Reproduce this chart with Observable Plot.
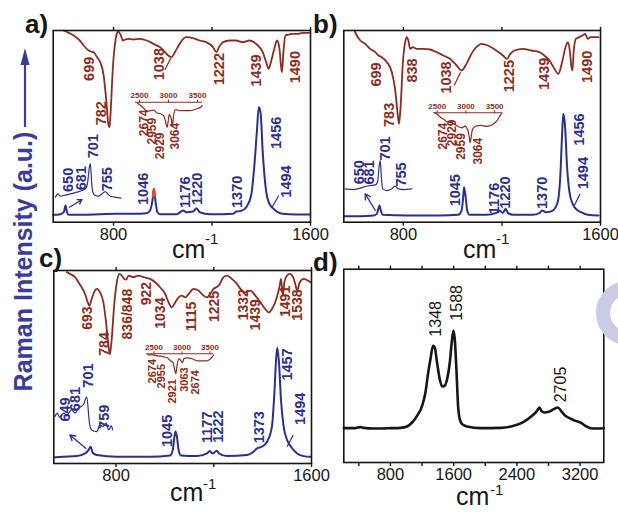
<!DOCTYPE html>
<html><head><meta charset="utf-8">
<script src="https://cdn.jsdelivr.net/npm/d3@7"></script>
<script src="https://cdn.jsdelivr.net/npm/@observablehq/plot@0.6"></script>
<style>
html,body{margin:0;padding:0;background:#fff;}
#fig{position:relative;width:618px;height:512px;overflow:hidden;background:#fff;font-family:"Liberation Sans",Arial,Helvetica,sans-serif;}
</style></head><body><div id="fig"></div>
<script>
// ---------- data (wavenumber cm^-1, intensity a.u.) ----------
const irA = [[598,575],[618,568],[638,560],[659,548],[679,530],[699,515],[708,512],[719,510],[733,495],[746,480],[760,440],[770,370],[780,290],[784,285],[789,340],[797,460],[807,540],[813,565],[820,572],[830,560],[838,545],[847,548],[861,550],[881,548],[908,550],[935,545],[962,535],[989,525],[1009,510],[1022,500],[1036,495],[1049,510],[1069,535],[1083,550],[1096,555],[1123,552],[1150,545],[1177,540],[1204,525],[1218,510],[1228,525],[1245,540],[1271,545],[1298,545],[1325,540],[1352,545],[1379,535],[1406,510],[1420,480],[1430,460],[1439,480],[1453,520],[1464,545],[1474,520],[1480,470],[1484,450],[1490,510],[1498,560],[1507,562],[1527,565],[1548,565],[1568,568],[1595,568]];
const ramanA = [[555,22],[584,24],[598,30],[605,50],[611,30],[618,22],[679,22],[746,24],[813,25],[881,25],[935,27],[948,35],[958,65],[964,100],[971,60],[978,30],[989,24],[1056,24],[1083,35],[1096,30],[1123,32],[1137,42],[1150,30],[1191,24],[1245,24],[1285,25],[1298,32],[1319,34],[1339,45],[1359,80],[1372,170],[1382,270],[1390,345],[1397,330],[1406,210],[1417,110],[1430,60],[1447,42],[1467,30],[1487,25],[1541,23],[1595,23]];
const ramanTopA = [[960,78],[964,100],[968,78]];
const zoomRamanA = [[564,75],[574,85],[584,78],[598,80],[625,85],[652,90],[672,95],[686,100],[695,120],[703,170],[706,175],[711,120],[716,90],[726,80],[739,78],[753,85],[766,92],[776,85],[787,78],[807,75],[830,72]];
const insetIrA = [[2460,99],[2546,91],[2633,82],[2690,83],[2747,84],[2805,78],[2862,77],[2919,72],[2948,62],[2975,50],[2995,62],[3012,75],[3034,72],[3052,64],[3066,51],[3086,72],[3121,85],[3207,83],[3293,83],[3379,83],[3465,86],[3552,90],[3581,93]];

const irB = [[601,575],[611,560],[625,545],[645,535],[665,520],[686,510],[699,500],[712,495],[733,480],[753,450],[766,400],[776,330],[782,295],[789,350],[797,470],[807,540],[813,555],[820,545],[827,520],[838,525],[854,520],[881,520],[908,518],[935,510],[962,500],[989,490],[1016,470],[1036,455],[1056,475],[1076,505],[1096,525],[1117,535],[1143,530],[1177,515],[1204,500],[1220,490],[1234,505],[1251,515],[1285,520],[1319,515],[1352,510],[1372,500],[1393,485],[1413,460],[1429,445],[1444,480],[1460,530],[1468,540],[1476,510],[1482,465],[1486,455],[1491,510],[1500,550],[1514,555],[1527,560],[1538,565],[1548,550],[1561,555],[1575,555],[1592,555]];
const ramanB = [[558,18],[625,18],[679,20],[692,25],[699,42],[703,50],[708,35],[716,22],[813,20],[948,20],[1022,22],[1036,35],[1042,70],[1046,105],[1052,80],[1059,35],[1069,22],[1137,22],[1177,28],[1191,34],[1204,28],[1215,40],[1224,28],[1245,22],[1325,22],[1352,27],[1363,35],[1379,30],[1406,35],[1426,60],[1437,140],[1444,260],[1449,325],[1456,290],[1464,170],[1474,90],[1487,55],[1500,40],[1521,30],[1548,22],[1592,20]];
const zoomRamanB = [[564,100],[598,98],[625,102],[645,107],[665,110],[686,112],[695,120],[702,170],[706,185],[711,130],[716,100],[733,95],[753,100],[766,108],[780,100],[800,98],[834,100]];
const insetIrB = [[2450,100],[2500,97],[2557,91],[2615,87],[2674,82],[2761,80],[2819,76],[2894,71],[2935,70],[2963,72],[2993,74],[3010,70],[3033,66],[3057,52],[3075,40],[3092,52],[3115,67],[3167,73],[3254,75],[3371,73],[3458,76],[3545,85],[3603,96],[3630,100]];

const irC = [[598,570],[611,565],[632,555],[646,540],[659,525],[673,505],[682,485],[691,470],[700,490],[710,510],[721,520],[734,510],[748,480],[759,420],[769,350],[775,325],[782,370],[792,470],[803,540],[814,565],[823,560],[833,550],[841,548],[851,560],[871,555],[892,560],[912,555],[939,550],[960,540],[980,525],[1001,505],[1015,480],[1028,465],[1042,480],[1056,495],[1069,500],[1083,495],[1097,505],[1117,520],[1138,515],[1151,505],[1172,495],[1185,505],[1199,520],[1220,530],[1240,555],[1254,560],[1274,550],[1295,535],[1309,520],[1329,510],[1350,515],[1370,500],[1391,480],[1411,460],[1425,450],[1438,460],[1456,490],[1470,530],[1475,550],[1483,500],[1489,540],[1500,560],[1511,565],[1525,555],[1535,530],[1541,515],[1552,540],[1568,550],[1585,545],[1596,540]];
const ramanC = [[545,18],[584,20],[639,22],[673,30],[687,40],[696,50],[704,32],[721,25],[803,20],[939,20],[1021,24],[1032,40],[1038,75],[1043,95],[1049,80],[1056,40],[1065,24],[1131,22],[1172,30],[1183,37],[1196,30],[1213,38],[1221,30],[1254,22],[1336,25],[1363,35],[1377,45],[1397,50],[1418,65],[1438,110],[1448,210],[1455,310],[1460,345],[1467,300],[1475,190],[1486,110],[1500,70],[1516,50],[1541,30],[1568,22],[1596,20]];
const zoomRamanC = [[550,140],[559,150],[568,138],[577,145],[587,150],[598,142],[609,154],[618,160],[632,150],[646,165],[666,175],[680,198],[691,120],[700,100],[721,95],[734,115],[745,110],[759,120],[770,100],[780,112],[786,100]];
const insetIrC = [[2389,98],[2468,98],[2557,96],[2675,94],[2736,92],[2795,86],[2843,82],[2866,70],[2889,60],[2914,78],[2943,90],[2986,86],[3009,82],[3032,90],[3093,92],[3182,90],[3272,86],[3361,86],[3450,86],[3509,90],[3568,98]];

const ramanD = [[210,103],[336,103],[420,106],[463,104],[589,102],[800,103],[927,104],[1011,108],[1074,120],[1137,140],[1201,170],[1243,210],[1272,260],[1306,310],[1340,350],[1361,345],[1390,300],[1424,250],[1454,228],[1483,230],[1517,250],[1551,300],[1576,360],[1597,395],[1614,370],[1635,280],[1656,170],[1677,130],[1707,115],[1770,108],[1939,103],[2192,104],[2360,110],[2487,122],[2592,140],[2655,155],[2685,165],[2710,155],[2748,150],[2803,152],[2866,160],[2917,165],[2959,155],[3014,140],[3077,132],[3140,125],[3204,120],[3267,110],[3330,103],[3414,102],[3499,103]];

// peak labels: [text, x, y]
const labelsIrA = [["699",703,460],["782",749,327],["1038",986,474],["1222",1228,459],["1439",1381,455],["1490",1538,465]];
const labelsRamanA = [["650",615,127],["681",668,132],["701",719,228],["755",773,129],["1046",920,100],["1176",1092,90],["1220",1142,100],["1370",1304,91],["1456",1463,268],["1494",1500,122]];
const labelsInsetA = [["2674",924,298],["2959",956,273],["2929",988,229],["3064",1050,258]];
const labelsIrB = [["699",690,443],["838",835,455],["783",741,322],["1038",976,434],["1225",1230,438],["1439",1374,445],["1490",1548,466]];
const labelsRamanB = [["650",620,150],["681",661,149],["701",725,221],["755",792,143],["1045",1010,96],["1176",1168,71],["1220",1215,89],["1370",1364,88],["1456",1514,278],["1494",1530,147]];
const labelsInsetB = [["2674",960,258],["2929",998,268],["2959",1034,227],["3064",1105,213]];
const labelsIrC = [["693",683,433],["784",753,356],["836/848",846,445],["922",926,506],["1034",983,448],["1115",1110,438],["1225",1202,468],["1332",1321,473],["1439",1370,443],["1491",1494,483],["1538",1544,472]];
const labelsRamanC = [["649",593,161],["681",634,192],["701",686,262],["759",750,139],["1045",1010,97],["1177",1174,108],["1222",1218,110],["1373",1386,108],["1457",1500,295],["1494",1553,163]];
const labelsInsetC = [["2674",950,275],["2955",987,260],["2921",1032,215],["3063",1081,250],["2674",1124,242]];
const labelsD = [["1348",1369,431],["1588",1643,479],["2705",2951,234]];

// pointers: [x1, y1, x2, y2]
const arrowA = [[621,45,672,68]];
const arrowB = [[686,35,645,85]];
const arrowC = [[677,45,611,85]];
const leaderIrA = [[1009,457,1032,492]];
const leaderRamanA = [[1444,45,1471,80]];
const leaderIrB = [[1006,410,1032,450]];
const leaderRamanB = [[1494,50,1517,85]];
const leaderRamanC = [[1500,50,1525,85]];

const ticksMain = [800, 1200, 1600];
const ticksD = [400, 800, 1200, 1600, 2000, 2400, 2800, 3200];
const ticksInset = [2500, 3000, 3500];

// ---------- drawing ----------
const BROWN = "#8b2c22", BLUE = "#2b3090", RED = "#e8462a", INK = "#161616";
const FONT = "'Liberation Sans', Arial, Helvetica, sans-serif";
const fig = document.getElementById("fig");
function place(el, left, top) {
  el.style.position = "absolute"; el.style.left = left + "px"; el.style.top = top + "px";
  fig.appendChild(el);
}
const baseStyle = {background: "transparent", overflow: "visible", fontFamily: FONT};

function mainPanel(o) {
  const marks = [];
  for (const s of o.lines) marks.push(Plot.line(s.data, {x: d => d[0], y: d => d[1], stroke: s.color, strokeWidth: s.width, curve: "monotone-x"}));
  for (const l of (o.links || [])) marks.push(Plot.link(l.data, {x1: d => d[0], y1: d => d[1], x2: d => d[2], y2: d => d[3], stroke: l.color, strokeWidth: 1.2}));
  for (const a of (o.arrows || [])) marks.push(Plot.arrow(a.data, {x1: d => d[0], y1: d => d[1], x2: d => d[2], y2: d => d[3], stroke: a.color, strokeWidth: 1.3, headLength: 7, bend: 0}));
  for (const t of o.texts) marks.push(Plot.text(t.data, {x: d => d[1], y: d => d[2], text: d => d[0], rotate: -90, fill: t.color, fontSize: t.size, fontWeight: t.weight || "bold"}));
  marks.push(Plot.frame({stroke: INK, strokeWidth: 1.6}));
  marks.push(Plot.axisX({anchor: "bottom", ticks: o.ticks, tickFormat: o.fmt, tickSize: 4, tickPadding: 2, fontSize: 16.5, label: null, stroke: INK, fill: INK, strokeWidth: 1.4}));
  marks.push(Plot.axisX({anchor: "top", ticks: o.ticks, tickFormat: () => "", tickSize: 4, label: null, stroke: INK, strokeWidth: 1.4}));
  const svg = Plot.plot({
    width: o.W, height: o.H,
    marginLeft: o.ml, marginRight: o.mr, marginTop: o.mt, marginBottom: o.mb,
    x: {domain: o.xd}, y: {domain: o.yd, axis: null},
    style: baseStyle, marks
  });
  place(svg, o.left, o.top);
}

function insetPanel(o) {
  const svg = Plot.plot({
    width: o.W, height: o.H,
    marginLeft: o.ml, marginRight: o.mr, marginTop: o.mt, marginBottom: o.mb,
    x: {domain: o.xd}, y: {domain: o.yd, axis: null},
    style: {...baseStyle, color: BROWN},
    marks: [
      Plot.ruleY([o.yd[1]], {stroke: BROWN, strokeWidth: 1.1}),
      Plot.line(o.data, {x: d => d[0], y: d => d[1], stroke: BROWN, strokeWidth: 1.2, curve: "monotone-x"}),
      Plot.axisX({anchor: "top", ticks: ticksInset, tickSize: 3, tickPadding: 1, fontSize: 8, fontWeight: "bold", label: null, stroke: BROWN, fill: BROWN, tickFormat: d => String(d)})
    ]
  });
  place(svg, o.left, o.top);
}

const fmtMain = d => (d === 1200 ? "" : String(d));
const fmtD = d => (d % 800 === 0 ? String(d) : "");

mainPanel({
  left: 0, top: 0, W: 340, H: 250, ml: 52.7, mr: 30, mt: 30, mb: 28.3,
  xd: [555, 1600], yd: [0, 575], ticks: ticksMain, fmt: fmtMain,
  lines: [
    {data: irA, color: BROWN, width: 1.8},
    {data: ramanA, color: BLUE, width: 2},
    {data: ramanTopA, color: RED, width: 2.2},
    {data: zoomRamanA, color: BLUE, width: 1.2}
  ],
  links: [{data: leaderIrA, color: BROWN}, {data: leaderRamanA, color: BLUE}],
  arrows: [{data: arrowA, color: BLUE}],
  texts: [
    {data: labelsIrA, color: BROWN, size: 14.5},
    {data: labelsRamanA, color: BLUE, size: 14.5},
    {data: labelsInsetA, color: BROWN, size: 12}
  ]
});
insetPanel({left: 125, top: 85, W: 90, H: 50, ml: 10, mr: 13, mt: 16.7, mb: 3.3, xd: [2431, 3586], yd: [40, 100], data: insetIrA});

mainPanel({
  left: 300, top: 0, W: 318, H: 250, ml: 43.3, mr: 18, mt: 30, mb: 28.3,
  xd: [558, 1600], yd: [0, 575], ticks: ticksMain, fmt: fmtMain,
  lines: [
    {data: irB, color: BROWN, width: 1.8},
    {data: ramanB, color: BLUE, width: 2},
    {data: zoomRamanB, color: BLUE, width: 1.2}
  ],
  links: [{data: leaderIrB, color: BROWN}, {data: leaderRamanB, color: BLUE}],
  arrows: [{data: arrowB, color: BLUE}],
  texts: [
    {data: labelsIrB, color: BROWN, size: 14.5},
    {data: labelsRamanB, color: BLUE, size: 14.5},
    {data: labelsInsetB, color: BROWN, size: 12}
  ]
});
insetPanel({left: 423, top: 95, W: 90, H: 52, ml: 10.3, mr: 11.3, mt: 17.3, mb: 2.2, xd: [2441, 3632], yd: [35, 100], data: insetIrB});

mainPanel({
  left: 0, top: 250, W: 340, H: 262, ml: 53.3, mr: 29, mt: 20, mb: 49,
  xd: [545, 1600], yd: [0, 575], ticks: ticksMain, fmt: fmtMain,
  lines: [
    {data: irC, color: BROWN, width: 1.8},
    {data: ramanC, color: BLUE, width: 2},
    {data: zoomRamanC, color: BLUE, width: 1.2}
  ],
  links: [{data: leaderRamanC, color: BLUE}],
  arrows: [{data: arrowC, color: BLUE}],
  texts: [
    {data: labelsIrC, color: BROWN, size: 14},
    {data: labelsRamanC, color: BLUE, size: 14.5},
    {data: labelsInsetC, color: BROWN, size: 11}
  ]
});
insetPanel({left: 136, top: 336, W: 90, H: 46, ml: 10, mr: 13, mt: 17.3, mb: 3.7, xd: [2366, 3563], yd: [50, 100], data: insetIrC});

mainPanel({
  left: 300, top: 250, W: 318, H: 262, ml: 43.3, mr: 14.7, mt: 18.7, mb: 50,
  xd: [210, 3500], yd: [0, 580], ticks: ticksD, fmt: fmtD,
  lines: [{data: ramanD, color: INK, width: 2.6}],
  texts: [{data: labelsD, color: INK, size: 16, weight: "normal"}]
});

// ---------- figure annotations ----------
const NS = "http://www.w3.org/2000/svg";
const over = document.createElementNS(NS, "svg");
over.setAttribute("width", 618); over.setAttribute("height", 512);
over.style.pointerEvents = "none";
over.innerHTML = `
  <g font-family="${FONT}" fill="${INK}">
    <text x="25" y="33" font-size="26" font-weight="bold">a)</text>
    <text x="313" y="33" font-size="26" font-weight="bold">b)</text>
    <text x="39" y="267" font-size="26" font-weight="bold">c)</text>
    <text x="313" y="271" font-size="26" font-weight="bold">d)</text>
    <text x="172" y="258" font-size="25">cm</text><text x="205" y="244" font-size="15">-1</text>
    <text x="463" y="258" font-size="25">cm</text><text x="496" y="244" font-size="15">-1</text>
    <text x="170" y="501" font-size="25">cm</text><text x="203" y="489" font-size="15">-1</text>
    <text x="456" y="505" font-size="25">cm</text><text x="490" y="495" font-size="15">-1</text>
  </g>
  <text transform="translate(31.5,261.5) rotate(-90)" text-anchor="middle" font-family="${FONT}" font-size="25" font-weight="bold" fill="#3a3c9c">Raman Intensity (a.u.)</text>
  <line x1="25" y1="127" x2="25" y2="62" stroke="#3a3c9c" stroke-width="2.2"/>
  <polygon points="25,48 20.5,65 29.5,65" fill="#3a3c9c"/>
  <circle cx="628" cy="313" r="25" fill="none" stroke="#cbcbe8" stroke-width="14"/>
`;
place(over, 0, 0);
</script></body></html>
